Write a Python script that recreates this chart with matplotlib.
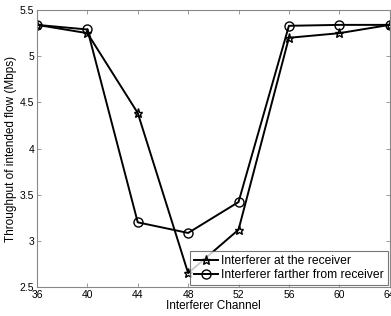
import matplotlib
matplotlib.use("Agg")
import matplotlib.pyplot as plt

channels = [36, 40, 44, 48, 52, 56, 60, 64]
at_receiver = [5.34, 5.25, 4.385, 2.65, 3.12, 5.20, 5.25, 5.34]
farther = [5.34, 5.29, 3.20, 3.085, 3.42, 5.33, 5.34, 5.34]
xticks = [36, 40, 44, 48, 52, 56, 60, 64]
yticks = [2.5, 3, 3.5, 4, 4.5, 5, 5.5]
ytick_labels = ["2.5", "3", "3.5", "4", "4.5", "5", "5.5"]

plt.rcParams['font.family'] = ['Liberation Sans', 'DejaVu Sans']

fig = plt.figure(figsize=(3.91, 3.16), dpi=100)
ax = fig.add_axes([0.0946, 0.092, 0.902, 0.876])

ax.plot(channels, at_receiver, color='black', lw=1.4, marker='*', ms=6.5,
        mfc='none', mec='black', mew=1.0, label='Interferer at the receiver')
ax.plot(channels, farther, color='black', lw=1.4, marker='o', ms=6.5,
        mfc='none', mec='black', mew=1.0, label='Interferer farther from receiver')

ax.set_xlim(36, 64)
ax.set_ylim(2.5, 5.5)
ax.set_xticks(xticks)
ax.set_yticks(yticks)
ax.set_yticklabels(ytick_labels)
ax.tick_params(direction='in', top=True, right=True, length=3, width=0.6,
               color='#888888', labelsize=7.5, pad=2)
for s in ax.spines.values():
    s.set_color('#888888')
    s.set_linewidth(0.8)

ax.set_xlabel('Interferer Channel', fontsize=8.5, labelpad=0)
ax.set_ylabel('Throughput of intended flow (Mbps)', fontsize=8.5, labelpad=2)

leg = ax.legend(loc='lower right', fontsize=8.7, frameon=True, fancybox=False,
                handlelength=2.0, handletextpad=0.3, borderpad=0.3,
                labelspacing=0.2, borderaxespad=0.15)
leg.get_frame().set_edgecolor('#555555')
leg.get_frame().set_linewidth(0.8)

fig.savefig('out.png', dpi=100)
